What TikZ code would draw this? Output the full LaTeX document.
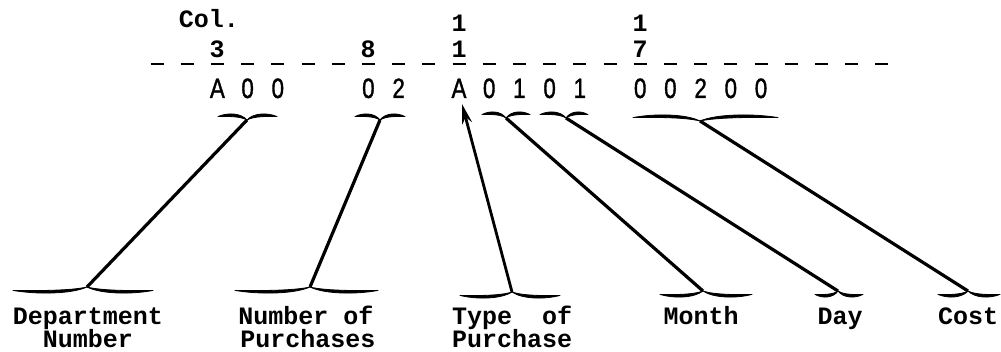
\documentclass[tikz,border=0pt]{standalone}
\usepackage{fontspec}
\newfontfamily\lblfont{Liberation Mono}
\newfontfamily\digfont[FakeStretch=0.8,FakeBold=1.2]{Liberation Sans}
\usetikzlibrary{arrows.meta}
\tikzset{
  bracestyle/.style={fill=black, draw=black, line width=0.8pt, line join=round},
  conn/.style={line width=3.2pt},
  arr/.style={line width=2.8pt, -{Stealth[length=20pt,width=10pt]}},
  dashmark/.style={line width=2.6pt},
  lbl/.style={font=\lblfont\bfseries\fontsize{25}{25}\selectfont, inner sep=0pt, anchor=base},
  colnum/.style={font=\lblfont\bfseries\fontsize{25}{25}\selectfont, inner sep=0pt, anchor=base},
  dig/.style={font=\digfont\fontsize{28}{28}\selectfont, inner sep=0pt, anchor=base}
}
% #1 name, #2 left x, #3 right x, #4 tip x, #5 body y, #6 direction (+1 tip down, -1 tip up)
\newcommand\mybrace[6]{%
  \filldraw[bracestyle]
    ({#2},{#5+1.6*(#6)}) .. controls ({#2+0.3*(#4-#2)},{#5-0.6*(#6)-1.8}) and ({#4-0.22*(#4-#2)},{#5-0.6*(#6)-1.8}) .. ({#4},{#5+5*(#6)})
    .. controls ({#4-0.22*(#4-#2)},{#5-0.6*(#6)+1.8}) and ({#2+0.3*(#4-#2)},{#5-0.6*(#6)+1.8}) .. ({#2},{#5+1.6*(#6)}) -- cycle;
  \filldraw[bracestyle]
    ({#3},{#5+1.6*(#6)}) .. controls ({#3-0.3*(#3-#4)},{#5-0.6*(#6)-1.8}) and ({#4+0.22*(#3-#4)},{#5-0.6*(#6)-1.8}) .. ({#4},{#5+5*(#6)})
    .. controls ({#4+0.22*(#3-#4)},{#5-0.6*(#6)+1.8}) and ({#3-0.3*(#3-#4)},{#5-0.6*(#6)+1.8}) .. ({#3},{#5+1.6*(#6)}) -- cycle;
  \coordinate (#1) at ({#4},{#5+5*(#6)});}
\begin{document}
\begin{tikzpicture}[x=1pt,y=-1pt]
\useasboundingbox (0,0) rectangle (1001,352);
% header
\node[lbl] (col) at (209,28) {Col.};
\node[colnum] (n3) at (217,58) {3};
\node[colnum] (n8) at (368,58) {8};
\node[colnum] (n11a) at (459,32) {1};
\node[colnum] (n11b) at (459,58) {1};
\node[colnum] (n17a) at (640,32) {1};
\node[colnum] (n17b) at (640,58) {7};
% dashes
\foreach \c in {1,...,25} {
  \draw[dashmark] ({157+30.2*(\c-1)-6.5},64) -- ({157+30.2*(\c-1)+6.5},64);
}
% data digits
\foreach \c/\t in {3/A,4/0,5/0,8/0,9/2,11/A,12/0,13/1,14/0,15/1,17/0,18/0,19/2,20/0,21/0} {
  \node[dig] (d\c) at ({157+30.2*(\c-1)},98) {\t};
}
% top braces
\mybrace{tDept}{218}{277}{247}{115}{1}
\mybrace{tNop}{355}{405}{380}{115}{1}
\mybrace{tMonth}{482}{530}{506}{113}{1}
\mybrace{tDay}{540}{588}{566}{113}{1}
\mybrace{tCost}{633}{778}{700}{116}{1}
\coordinate (tType) at (462,104);
% bottom braces
\mybrace{bDept}{13}{153}{87}{292}{-1}
\mybrace{bNop}{235}{378}{310}{292}{-1}
\mybrace{bType}{460}{560}{512}{297}{-1}
\mybrace{bMonth}{660}{752}{703}{296}{-1}
\mybrace{bDay}{815}{863}{838}{296}{-1}
\mybrace{bCost}{938}{1000}{968}{296}{-1}
% connectors
\draw[conn] (tDept) -- (bDept);
\draw[conn] (tNop) -- (bNop);
\draw[conn] (tMonth) -- (bMonth);
\draw[conn] (tDay) -- (bDay);
\draw[conn] (tCost) -- (bCost);
\draw[arr] (bType) -- (tType);
% labels
\node[lbl] (dept1) at (88,325) {Department};
\node[lbl] (dept2) at (88,348) {Number};
\node[lbl] (nop1) at (306,325) {Number of};
\node[lbl] (nop2) at (308,348) {Purchases};
\node[lbl, anchor=base west] (typ1) at (452,325) {Type\ \ of};
\node[lbl, anchor=base west] (typ2) at (452,348) {Purchase};
\node[lbl] (month) at (701,325) {Month};
\node[lbl] (day) at (840,325) {Day};
\node[lbl] (cost) at (968,325) {Cost};
\end{tikzpicture}
\end{document}
